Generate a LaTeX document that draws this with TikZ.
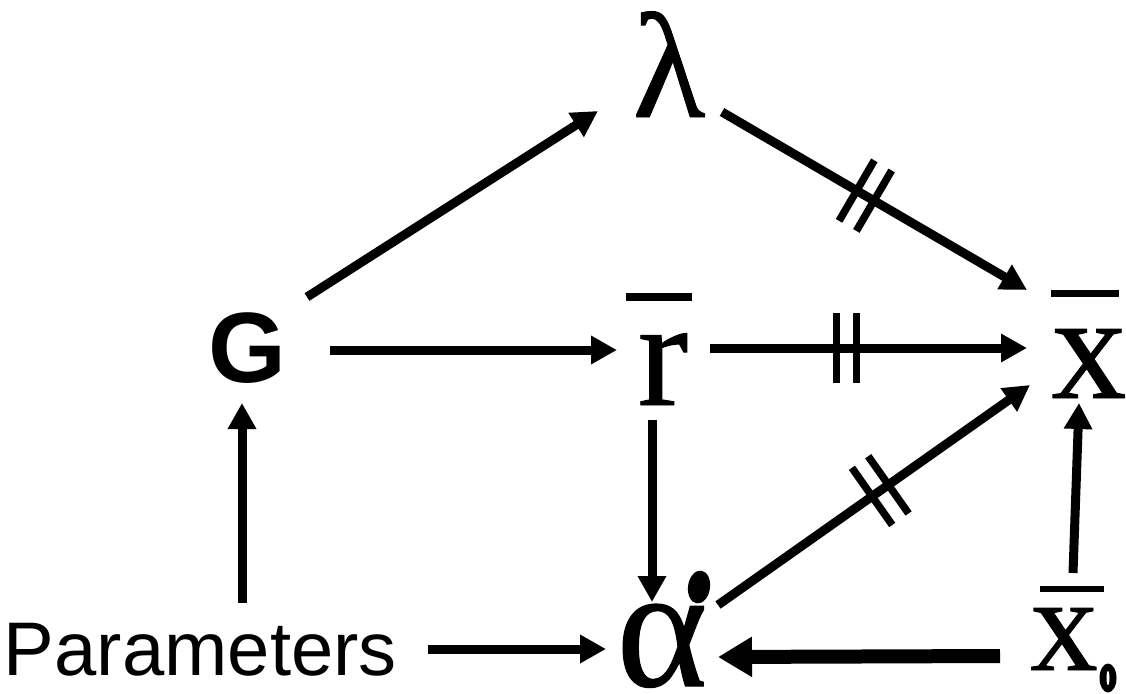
\documentclass[tikz,border=0pt]{standalone}
\usepackage{fontspec}
\setmainfont{Liberation Serif}
\newfontfamily\serifheavy[FakeBold=0.6]{Liberation Serif}
\newfontfamily\arialfont{Liberation Sans}
\usetikzlibrary{arrows.meta,calc,decorations.markings}
\tikzset{
  lbl/.style={inner sep=0pt, outer sep=0pt, anchor=base, text depth=0pt, font=\serifheavy},
  conn/.style={line width=9pt, -{Triangle[length=26pt,width=27pt]}},
  bigconn/.style={line width=14pt, -{Triangle[length=34pt,width=38pt]}},
  ticks/.style={postaction={decorate,decoration={markings,
     mark=at position #1 with {\draw[line width=7.5pt,-] (-10pt,-35pt)--(-10pt,35pt) (10pt,-35pt)--(10pt,35pt);}}}},
  bar/.style={fill=black}
}
\begin{document}
\begin{tikzpicture}[x=1pt,y=-1pt]
\useasboundingbox (0,0) rectangle (1126,693);
% nodes
\node[lbl] (L) at (669,117) {\fontsize{150pt}{150pt}\selectfont λ};
\node[lbl, font=\arialfont\bfseries] (G) at (247,382) {\fontsize{100pt}{100pt}\selectfont G};
\node[lbl] (R) at (663,405) {\fontsize{152pt}{152pt}\selectfont r};
\node[lbl] (X) at (1089,398) {\fontsize{150pt}{150pt}\selectfont x};
\node[lbl] (A) at (662,686) {\fontsize{174pt}{174pt}\selectfont α};
\node[lbl] (X0) at (1064,670) {\fontsize{135pt}{135pt}\selectfont x};
\node[inner sep=0pt, outer sep=0pt, anchor=base west, text depth=0pt] (P) at (4,675) {\arialfont\fontsize{76pt}{76pt}\selectfont Parameters};
% bars and small marks
\fill[bar] (626,293) rectangle (692,301);
\fill[bar] (1051,290) rectangle (1119,297);
\fill[bar] (1040,586) rectangle (1104,592);
\fill[rotate around={-8:(699,587)}] (699,587) ellipse [x radius=11pt, y radius=16.5pt];
\fill (1108,678) ellipse [x radius=8.5pt, y radius=14.5pt];
\fill[white] (1108,678) ellipse [x radius=1.5pt, y radius=7pt];
% connectors
\draw[conn] ($(G.base)+(60,-85)$) -- ($(L.base)+(-71,-6)$);
\draw[conn, ticks=0.47] ($(L.base)+(53,-5)$) -- ($(X.base)+(-62,-108)$);
\draw[conn] ($(G.base)+(83,-32)$) -- ($(R.base)+(-46,-55)$);
\draw[conn, ticks=0.43] ($(R.base)+(47,-57)$) -- ($(X.base)+(-62,-50)$);
\draw[conn] ($(R.base)+(-11,15)$) -- ($(A.base)+(-10,-84)$);
\draw[conn, ticks=0.52] ($(A.base)+(56,-81)$) -- ($(X.base)+(-59,-13)$);
\draw[conn] ($(X0.base)+(9,-97)$) -- ($(X.base)+(-10,5)$);
\draw[bigconn] ($(X0.base)+(-64,-14)$) -- ($(A.base)+(56,-29)$);
\draw[conn] ($(P.base west)+(424,-26)$) -- ($(A.base)+(-56,-37)$);
\draw[conn] ($(P.base west)+(238,-72)$) -- ($(G.base)+(-5,21)$);
\end{tikzpicture}
\end{document}
